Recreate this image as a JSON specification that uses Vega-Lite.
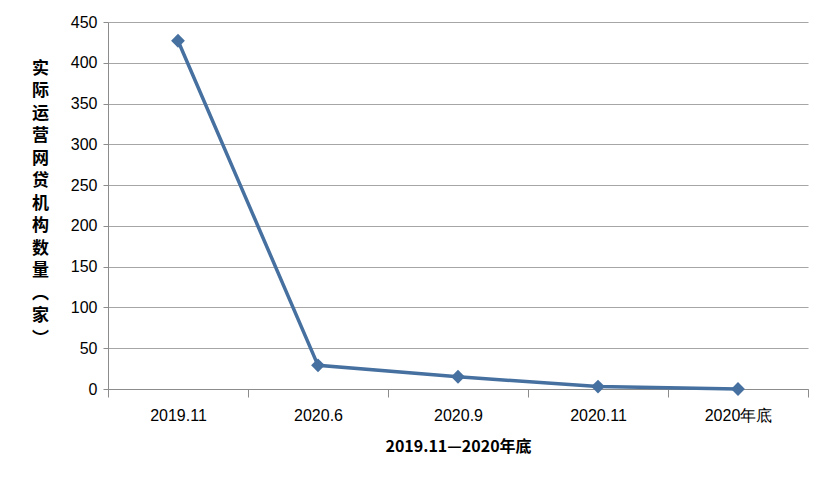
{
  "$schema": "https://vega.github.io/schema/vega-lite/v6.json",
  "width": 700,
  "height": 367,
  "autosize": {"type": "none"},
  "padding": {"left": 108, "top": 22, "right": 22, "bottom": 97},
  "background": "white",
  "data": {"values": [
    {"period": "2019.11", "count": 427},
    {"period": "2020.6", "count": 29},
    {"period": "2020.9", "count": 15},
    {"period": "2020.11", "count": 3},
    {"period": "2020年底", "count": 0}
  ]},
  "mark": {"type": "line", "color": "#46709f", "strokeWidth": 3.5, "point": {"shape": "diamond", "size": 190, "filled": true, "color": "#46709f", "opacity": 1}},
  "encoding": {
    "x": {
      "field": "period", "type": "ordinal", "sort": null,
      "scale": {"type": "band", "paddingInner": 0, "paddingOuter": 0},
      "axis": {
        "title": "2019.11—2020年底",
        "titleFont": "Noto Sans CJK SC", "titleFontSize": 16, "titleFontWeight": "bold", "titleColor": "#000000",
        "titlePadding": 15,
        "labelAngle": 0, "labelFont": "Liberation Sans", "labelFontSize": 16, "labelColor": "#000000",
        "labelPadding": 10,
        "tickBand": "extent", "tickSize": 8, "tickColor": "#8c8c8c", "domainColor": "#8c8c8c",
        "grid": false
      }
    },
    "y": {
      "field": "count", "type": "quantitative",
      "scale": {"domain": [0, 450], "nice": false},
      "axis": {
        "values": [0, 50, 100, 150, 200, 250, 300, 350, 400, 450],
        "title": ["实", "际", "运", "营", "网", "贷", "机", "构", "数", "量", "︵", "家", "︶"],
        "titleAngle": 0, "titleAlign": "center", "titleBaseline": "middle",
        "titleFont": "Noto Sans CJK SC", "titleFontSize": 17, "titleFontWeight": "bold", "titleColor": "#000000",
        "titleLineHeight": 22.5, "titleX": -68, "titleY": 46,
        "labelFont": "Liberation Sans", "labelFontSize": 16, "labelColor": "#000000", "labelPadding": 6,
        "tickSize": 5, "tickColor": "#8c8c8c", "domainColor": "#8c8c8c",
        "grid": true, "gridColor": "#a6a6a6", "gridWidth": 1
      }
    }
  },
  "config": {"view": {"stroke": null}}
}
